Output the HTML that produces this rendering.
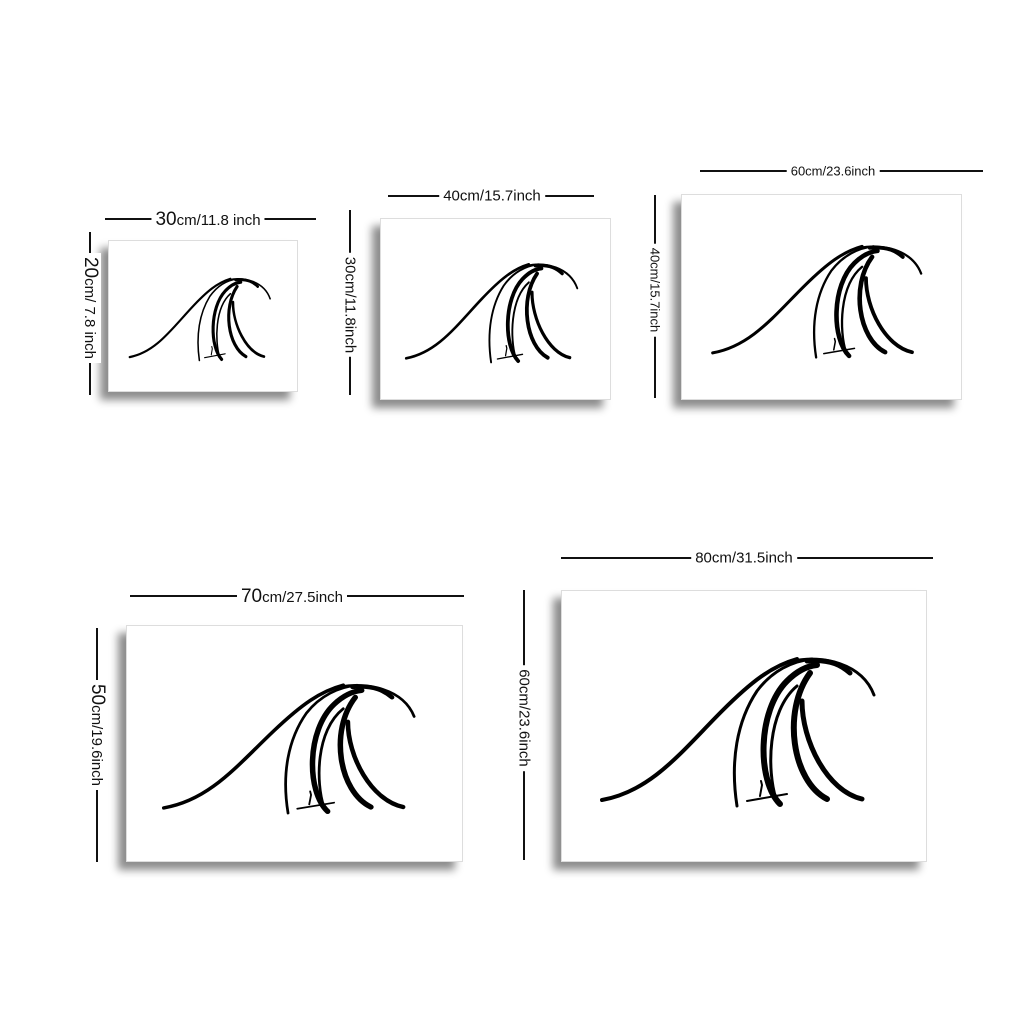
<!DOCTYPE html>
<html><head><meta charset="utf-8"><style>
body{margin:0;width:1024px;height:1024px;background:#fff;position:relative;overflow:hidden;font-family:"Liberation Sans",sans-serif;color:#111}
.f{position:absolute;background:#fff;border:1px solid #ddd;box-shadow:-8px 8px 8px rgba(0,0,0,.45)}
.f svg{width:100%;height:100%;display:block}
.h{position:absolute;height:2px;background:#111}
.v{position:absolute;width:2px;background:#111}
.t{position:absolute;background:#fff;white-space:nowrap;padding:0 4px;transform:translate(-50%,-50%)}
.r{position:absolute;background:#fff;white-space:nowrap;padding:0 4px;transform:translate(-50%,-50%) rotate(90deg)}
</style></head><body>
<svg width="0" height="0" style="position:absolute">
<defs><symbol id="wave" viewBox="0 0 364 270" preserveAspectRatio="none">
<g fill="none" stroke="#000" stroke-linecap="round">
<path d="M40 209 C90 200 120 160 160 120 C190 90 210 75 235 68" stroke-width="4"/>
<path d="M175 215 C168 170 175 130 195 100 C210 80 230 70 250 68" stroke-width="3"/>
<path d="M232 70 C260 64 300 72 312 104" stroke-width="3"/>
<path d="M245 70 C270 68 280 75 288 82" stroke-width="5"/>
<path d="M218 213 C195 190 195 120 225 90 C235 80 245 75 255 74" stroke-width="6"/>
<path d="M214 208 C205 180 205 120 235 95" stroke-width="3"/>
<path d="M265 208 C230 190 220 120 248 82" stroke-width="6"/>
<path d="M300 208 C265 200 240 150 240 110" stroke-width="5"/>
<path d="M185 210 L225 203" stroke-width="2"/>
<path d="M198 205 L200 194 L199 190" stroke-width="2"/>
</g></symbol></defs></svg>

<div class="f" style="left:108px;top:240px;width:188px;height:150px"><svg><use href="#wave"/></svg></div>
<div class="h" style="left:105px;top:218px;width:211px"></div>
<div class="t" style="left:208px;top:220px;font-size:15px"><span style="font-size:19px">30</span>cm/11.8 inch</div>
<div class="v" style="left:89px;top:232px;height:163px"></div>
<div class="r" style="left:90px;top:308px;font-size:15px"><span style="font-size:19px">20</span>cm/ 7.8 inch</div>

<div class="f" style="left:380px;top:218px;width:229px;height:180px"><svg><use href="#wave"/></svg></div>
<div class="h" style="left:388px;top:195px;width:206px"></div>
<div class="t" style="left:492px;top:196px;font-size:15px">40cm/15.7inch</div>
<div class="v" style="left:349px;top:210px;height:185px"></div>
<div class="r" style="left:350px;top:305px;font-size:15px">30cm/11.8inch</div>

<div class="f" style="left:681px;top:194px;width:279px;height:204px"><svg><use href="#wave"/></svg></div>
<div class="h" style="left:700px;top:170px;width:283px"></div>
<div class="t" style="left:833px;top:171px;font-size:13px">60cm/23.6inch</div>
<div class="v" style="left:654px;top:195px;height:203px"></div>
<div class="r" style="left:655px;top:290px;font-size:13px">40cm/15.7inch</div>

<div class="f" style="left:126px;top:625px;width:335px;height:235px"><svg><use href="#wave"/></svg></div>
<div class="h" style="left:130px;top:595px;width:334px"></div>
<div class="t" style="left:292px;top:597px;font-size:15px"><span style="font-size:19px">70</span>cm/27.5inch</div>
<div class="v" style="left:96px;top:628px;height:234px"></div>
<div class="r" style="left:97px;top:735px;font-size:15px"><span style="font-size:19px">50</span>cm/19.6inch</div>

<div class="f" style="left:561px;top:590px;width:364px;height:270px"><svg><use href="#wave"/></svg></div>
<div class="h" style="left:561px;top:557px;width:372px"></div>
<div class="t" style="left:744px;top:558px;font-size:15px">80cm/31.5inch</div>
<div class="v" style="left:523px;top:590px;height:270px"></div>
<div class="r" style="left:524px;top:718px;font-size:15px">60cm/23.6inch</div>
</body></html>
